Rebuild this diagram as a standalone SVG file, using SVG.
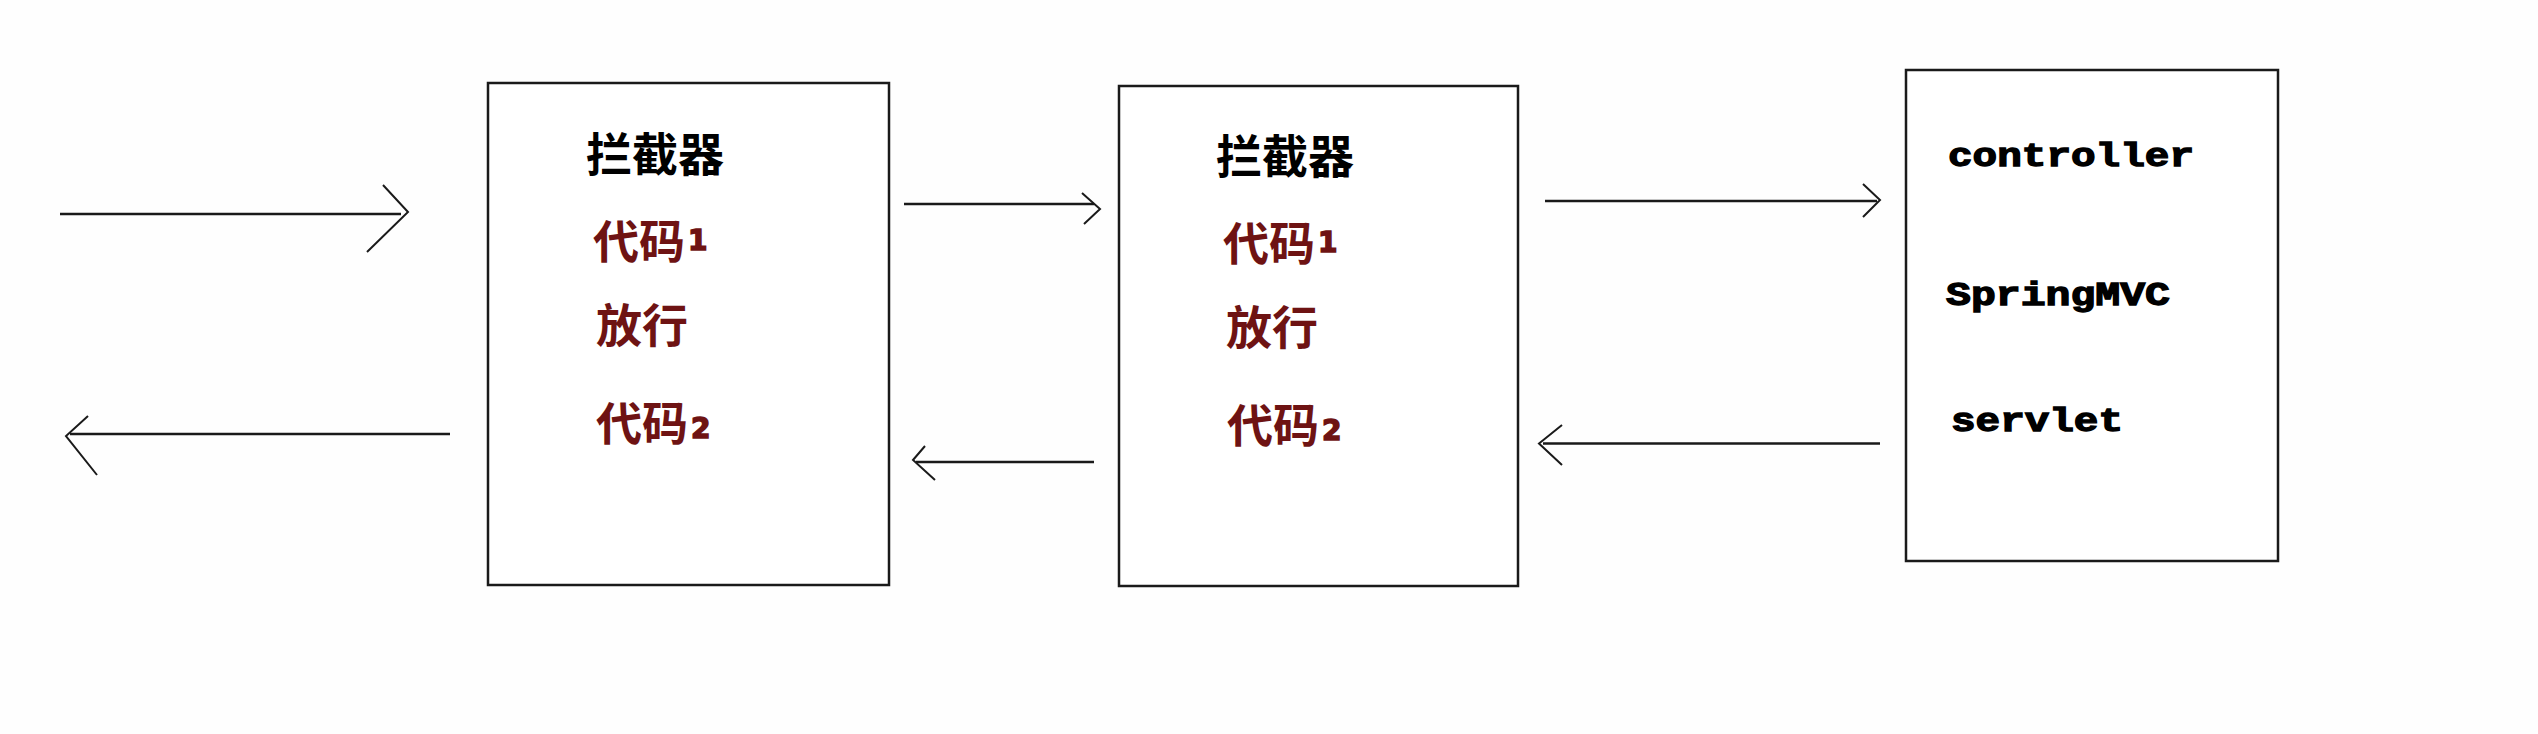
<svg xmlns="http://www.w3.org/2000/svg" width="2538" height="734" viewBox="0 0 2538 734">
<style>
.box{fill:#ffffff;stroke:#1a1a1a;stroke-width:2.5}
.ln{fill:none;stroke:#1a1a1a;stroke-width:2.5;stroke-linecap:butt}
.hd{fill:none;stroke:#1a1a1a;stroke-width:2;stroke-linejoin:miter}
.cjk{font-family:"Noto Sans CJK SC","Noto Sans",sans-serif;font-weight:bold;font-size:46px}
.title{fill:#000000}
.red{fill:#6e1313}
.dig{font-family:"DejaVu Sans","Noto Sans CJK SC",sans-serif;font-weight:bold;font-size:28px;stroke:#6e1313;stroke-width:1.5}
.mono{font-family:"Liberation Mono","DejaVu Sans Mono",monospace;font-weight:bold;font-size:33px;fill:#000000;stroke:#000000;stroke-width:1.3}
</style>
<rect width="2538" height="734" fill="#fefefe"/>
<g id="connectors">
  <path class="ln" d="M60,214 H401"/>
  <path class="hd" d="M383,185 L408,212 L367,252"/>
  <path class="ln" d="M450,434 H70"/>
  <path class="hd" d="M88,416 L66,436 L97,475"/>
  <path class="ln" d="M904,204 H1094"/>
  <path class="hd" d="M1082,193 L1100,209 L1084,224"/>
  <path class="ln" d="M1094,462 H916"/>
  <path class="hd" d="M925,446 L913,460 L935,480"/>
  <path class="ln" d="M1545,201 H1877"/>
  <path class="hd" d="M1863,184 L1880,200 L1863,217"/>
  <path class="ln" d="M1880,443.5 H1543"/>
  <path class="hd" d="M1562,425 L1539,443.5 L1562,465"/>
</g>
<g id="interceptor1">
  <rect class="box" x="488" y="83" width="401" height="502"/>
  <text class="cjk title" x="586" y="171">拦截器</text>
  <text class="cjk red" x="593" y="258">代码<tspan class="dig" dx="3" dy="-8">1</tspan></text>
  <text class="cjk red" x="596" y="342">放行</text>
  <text class="cjk red" x="596" y="440">代码<tspan class="dig" dx="3" dy="-2">2</tspan></text>
</g>
<g id="interceptor2">
  <rect class="box" x="1119" y="86" width="399" height="500"/>
  <text class="cjk title" x="1216" y="173">拦截器</text>
  <text class="cjk red" x="1223" y="260">代码<tspan class="dig" dx="3" dy="-8">1</tspan></text>
  <text class="cjk red" x="1226" y="344">放行</text>
  <text class="cjk red" x="1227" y="442">代码<tspan class="dig" dx="3" dy="-2">2</tspan></text>
</g>
<g id="controller">
  <rect class="box" x="1906" y="70" width="372" height="491"/>
  <text class="mono" x="1948" y="166" textLength="246" lengthAdjust="spacingAndGlyphs">controller</text>
  <text class="mono" x="1946" y="305" textLength="224" lengthAdjust="spacingAndGlyphs">SpringMVC</text>
  <text class="mono" x="1951" y="431" textLength="172" lengthAdjust="spacingAndGlyphs">servlet</text>
</g>
</svg>
